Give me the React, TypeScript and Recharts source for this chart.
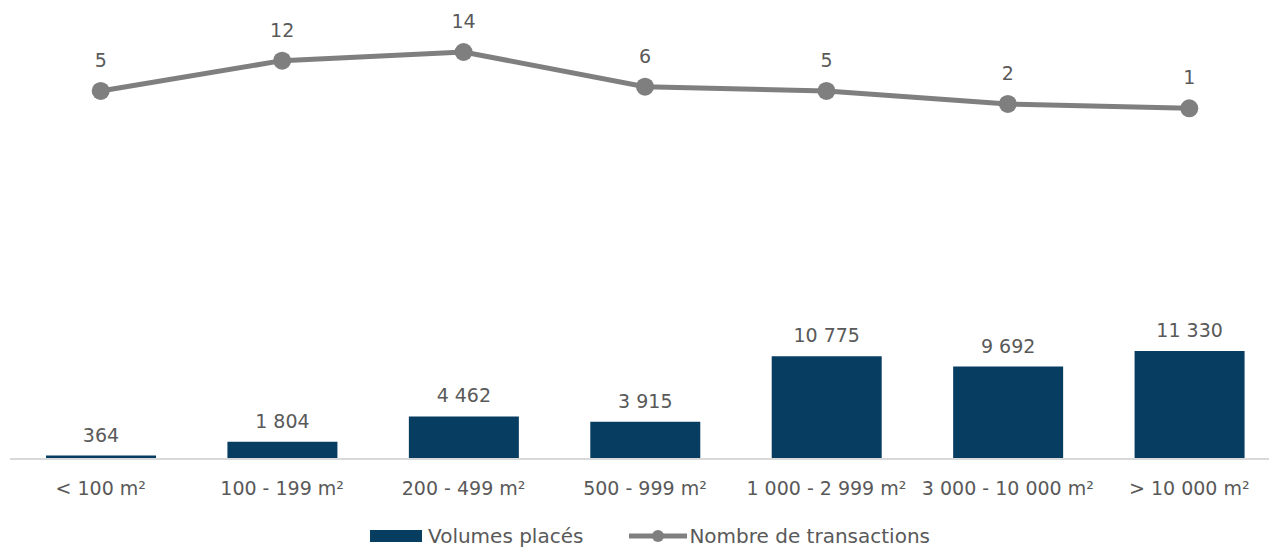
import { ComposedChart, Bar, Line, XAxis, YAxis, LabelList, Legend } from "recharts";

const categories = ["< 100 m²", "100 - 199 m²", "200 - 499 m²", "500 - 999 m²", "1 000 - 2 999 m²", "3 000 - 10 000 m²", "> 10 000 m²"];
const volumes = [364, 1804, 4462, 3915, 10775, 9692, 11330];
const transactions = [5, 12, 14, 6, 5, 2, 1];

const data = categories.map((c, i) => ({ cat: c, vol: volumes[i], tx: transactions[i] }));

const fmt = (v: any) => String(v).replace(/\B(?=(\d{3})+(?!\d))/g, " ");

const TEXT = "#595959";
const FONT = "'DejaVu Sans', sans-serif";

function LegendBox() {
  return (
    <div style={{ height: 50, boxSizing: "border-box", display: "flex", alignItems: "flex-end", justifyContent: "center",
                  paddingLeft: 10, paddingBottom: 1, fontSize: 20, color: TEXT, fontFamily: FONT }}>
      <span style={{ display: "inline-block", width: 52, height: 12, background: "#083d62", marginRight: 6, marginBottom: 6 }} />
      <span style={{ marginRight: 46 }}>Volumes placés</span>
      <svg width={58} height={14} style={{ marginRight: 2, marginBottom: 5 }}>
        <line x1={0} y1={7} x2={58} y2={7} stroke="#7f7f7f" strokeWidth={5} />
        <circle cx={29} cy={7} r={6} fill="#7f7f7f" />
      </svg>
      <span>Nombre de transactions</span>
    </div>
  );
}

export default function App() {
  return (
    <div style={{ position: "absolute", left: 0, top: 0, width: 1269, height: 549, overflow: "hidden", background: "#fff", fontFamily: FONT }}>
      <ComposedChart width={1290} height={549} data={data} margin={{ top: 10, right: 10, left: 10, bottom: 0 }}>
        <XAxis dataKey="cat" xAxisId={0} height={40} tickLine={false} tickSize={0} tickMargin={23}
               axisLine={{ stroke: "#d9d9d9", strokeWidth: 2 }} interval={0}
               tick={{ fontSize: 19, fill: TEXT, fontFamily: FONT }} />
        <YAxis yAxisId="vol" hide domain={[0, 47100]} />
        <YAxis yAxisId="tx" orientation="right" hide domain={[-80, 23.7]} />
        <Legend verticalAlign="bottom" height={50} content={() => <LegendBox />} />
        <Bar yAxisId="vol" dataKey="vol" fill="#083d62" barSize={110} isAnimationActive={false} name="Volumes placés">
          <LabelList dataKey="vol" position="top" offset={14} formatter={fmt}
                     style={{ fontSize: 19, fill: TEXT, fontFamily: FONT }} />
        </Bar>
        <Line yAxisId="tx" dataKey="tx" stroke="#7f7f7f" strokeWidth={5} isAnimationActive={false}
              dot={{ r: 9, fill: "#7f7f7f", stroke: "none" }} name="Nombre de transactions">
          <LabelList dataKey="tx" position="top" offset={24}
                     style={{ fontSize: 19, fill: TEXT, fontFamily: FONT }} />
        </Line>
      </ComposedChart>
    </div>
  );
}
